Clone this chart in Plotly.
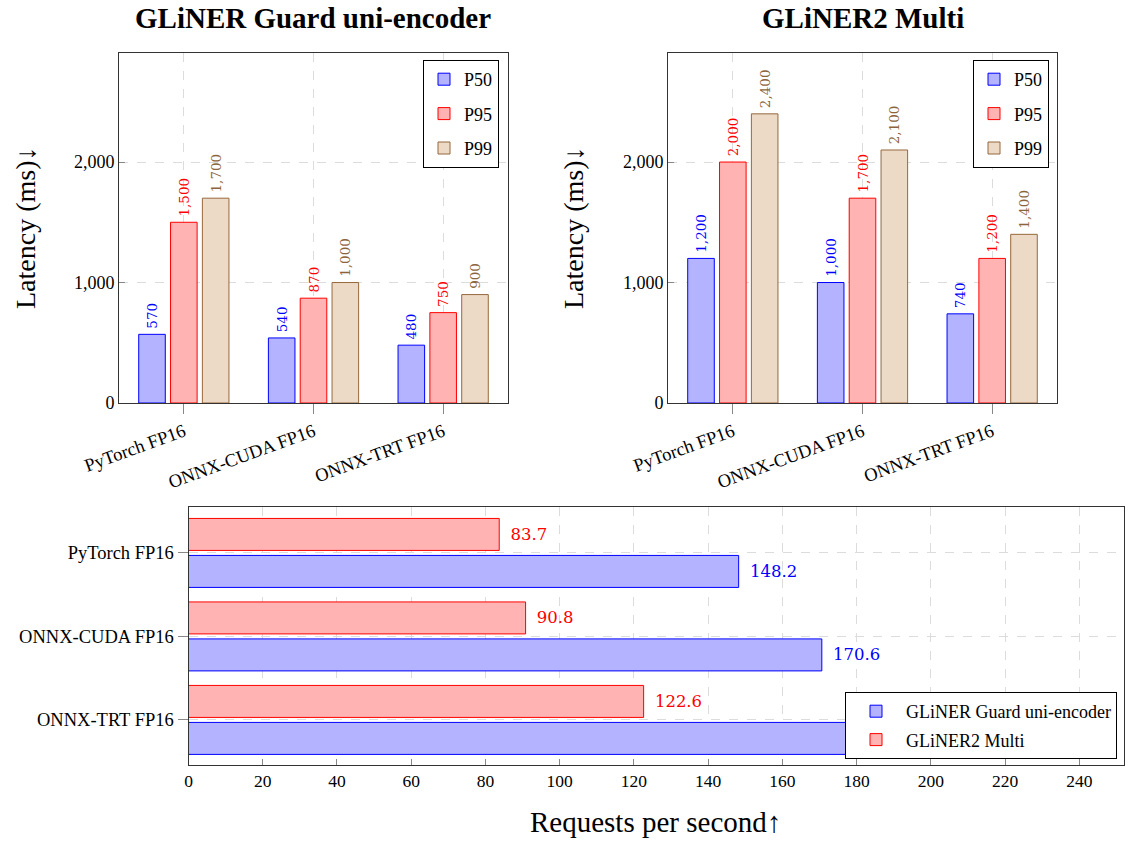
import plotly.graph_objects as go

# ---------------- data ----------------
categories = ["PyTorch FP16", "ONNX-CUDA FP16", "ONNX-TRT FP16"]
series_names = ["P50", "P95", "P99"]

guard_p50 = [570, 540, 480]
guard_p95 = [1500, 870, 750]
guard_p99 = [1700, 1000, 900]

multi_p50 = [1200, 1000, 740]
multi_p95 = [2000, 1700, 1200]
multi_p99 = [2400, 2100, 1400]

rps_guard = [148.2, 170.6, 215.0]   # last value hidden behind legend (estimated)
rps_multi = [83.7, 90.8, 122.6]

title_left = "GLiNER Guard uni-encoder"
title_right = "GLiNER2 Multi"
ytitle = "Latency (ms)↓"
xtitle_bottom = "Requests per second↑"

# ---------------- layout helpers (page pixels -> paper coords) ----------------
W, H, OX, OY = 1130, 841, 0, 0
def px(x):
    return (x - OX) / W
def py(y):
    return 1 - (y - OY) / H

# ---------------- styles ----------------
FONT = "Liberation Serif"
fills = ["rgb(179,179,255)", "rgb(255,179,179)", "rgb(236,217,198)"]
lines = ["rgb(0,0,255)", "rgb(255,0,0)", "rgb(150,105,60)"]
labcol = ["rgb(0,0,255)", "rgb(255,0,0)", "rgb(140,100,60)"]

fig = go.Figure()

def fmt(v):
    return "\u2009" + f"{v:,}"

top_width = 0.205
top_offsets = [-0.348, -0.1025, 0.143]

for sub, (vals, xa, ya, lg) in enumerate([
        ([guard_p50, guard_p95, guard_p99], "x", "y", "legend"),
        ([multi_p50, multi_p95, multi_p99], "x2", "y2", "legend2")]):
    for i, name in enumerate(series_names):
        fig.add_trace(go.Bar(
            x=categories, y=vals[i], name=name,
            xaxis=xa, yaxis=ya, legend=lg,
            width=top_width, offset=top_offsets[i],
            marker=dict(color=fills[i], line=dict(color=lines[i], width=1)),
            text=[fmt(v) for v in vals[i]], textposition="outside",
            textangle=-90, constraintext="none", cliponaxis=False,
            textfont=dict(family="DejaVu Serif", size=13.5, color=labcol[i]),
            legendgroup=f"{lg}{i}",
        ))

# bottom horizontal bars (red first -> top within group on reversed axis)
fig.add_trace(go.Bar(
    y=categories, x=rps_multi, orientation="h", name="GLiNER2 Multi",
    xaxis="x3", yaxis="y3", legend="legend3", legendrank=2,
    width=0.383, offset=-0.413,
    marker=dict(color=fills[1], line=dict(color=lines[1], width=1)),
    text=["\u2002" + f"{v:.1f}" for v in rps_multi], textposition="outside",
    constraintext="none", cliponaxis=False,
    textfont=dict(family="DejaVu Serif", size=16.5, color=labcol[1]),
    legendgroup="b2",
))
# the last label sits under the legend in the reference, so it is not shown
guard_labels = ["\u2002" + f"{v:.1f}" for v in rps_guard[:-1]] + [""]
fig.add_trace(go.Bar(
    y=categories, x=rps_guard, orientation="h", name="GLiNER Guard uni-encoder",
    xaxis="x3", yaxis="y3", legend="legend3", legendrank=1,
    width=0.383, offset=0.030,
    marker=dict(color=fills[0], line=dict(color=lines[0], width=1)),
    text=guard_labels, textposition="outside",
    constraintext="none", cliponaxis=True,
    textfont=dict(family="DejaVu Serif", size=16.5, color=labcol[0]),
    legendgroup="b1",
))

grid = dict(showgrid=True, gridcolor="#dcdcdc", griddash="dash", gridwidth=1)
frame = dict(showline=True, linecolor="#333", linewidth=1, mirror=True)

def top_x(domain, anchor):
    return dict(domain=domain, anchor=anchor, type="category",
                range=[-0.5, 2.5], tickangle=-20, automargin=False,
                ticks="outside", ticklen=10, tickcolor="#888",
                tickfont=dict(family=FONT, size=18.5, color="black"),
                **grid, **frame)

def top_y(domain, anchor):
    return dict(domain=domain, anchor=anchor, range=[0, 2905],
                tickvals=[0, 1000, 2000], tickformat=",d", automargin=False,
                ticks="inside", ticklen=6, tickcolor="#888",
                tickfont=dict(family=FONT, size=18, color="black"),
                zeroline=False, **grid, **frame)

legend_common = dict(xanchor="right", yanchor="top", bgcolor="white",
                     bordercolor="black", borderwidth=1,
                     font=dict(family=FONT, size=18))

fig.update_layout(
    width=W, height=H,
    margin=dict(l=0, r=0, t=0, b=0, autoexpand=False),
    paper_bgcolor="white", plot_bgcolor="white",
    barmode="group",
    font=dict(family=FONT, size=16, color="black"),
    xaxis=top_x([px(119), px(508)], "y"),
    yaxis=top_y([py(403), py(53)], "x"),
    xaxis2=top_x([px(668), px(1057)], "y2"),
    yaxis2=top_y([py(403), py(53)], "x2"),
    xaxis3=dict(domain=[px(188.5), px(1124)], anchor="y3", range=[0, 252],
                tickvals=list(range(0, 241, 20)), automargin=False,
                ticks="inside", ticklen=6, tickcolor="#888",
                tickfont=dict(family=FONT, size=17.5, color="black"),
                zeroline=False, **grid, **frame),
    yaxis3=dict(domain=[py(765), py(507)], anchor="x3", type="category",
                range=[2.54, -0.55], automargin=False,
                ticks="outside", ticklen=10, tickcolor="#888",
                tickfont=dict(family=FONT, size=18.5, color="black"),
                **grid, **frame),
    legend=dict(x=px(499), y=py(60), tracegroupgap=8, itemwidth=30, **legend_common),
    legend2=dict(x=px(1049), y=py(60), tracegroupgap=8, itemwidth=30, **legend_common),
    legend3=dict(x=px(1117), y=py(692), tracegroupgap=2, itemwidth=50, **legend_common),
    annotations=[
        dict(text=f"<b>{title_left}</b>", x=px(313), y=1.0,
             xanchor="center", yanchor="top",
             xref="paper", yref="paper", showarrow=False,
             font=dict(family=FONT, size=29)),
        dict(text=f"<b>{title_right}</b>", x=px(863), y=1.0,
             xanchor="center", yanchor="top",
             xref="paper", yref="paper", showarrow=False,
             font=dict(family=FONT, size=29)),
        dict(text=ytitle, x=px(26), y=py(228), textangle=-90,
             xanchor="center", yanchor="middle",
             xref="paper", yref="paper", showarrow=False,
             font=dict(family=FONT, size=28)),
        dict(text=ytitle, x=px(574), y=py(228), textangle=-90,
             xanchor="center", yanchor="middle",
             xref="paper", yref="paper", showarrow=False,
             font=dict(family=FONT, size=28)),
        dict(text=xtitle_bottom, x=px(655), y=py(822),
             xanchor="center", yanchor="middle",
             xref="paper", yref="paper", showarrow=False,
             font=dict(family=FONT, size=29)),
    ],
)

fig.write_html("out.html", config={"displayModeBar": False},
               post_script="document.body.style.margin='0';")
